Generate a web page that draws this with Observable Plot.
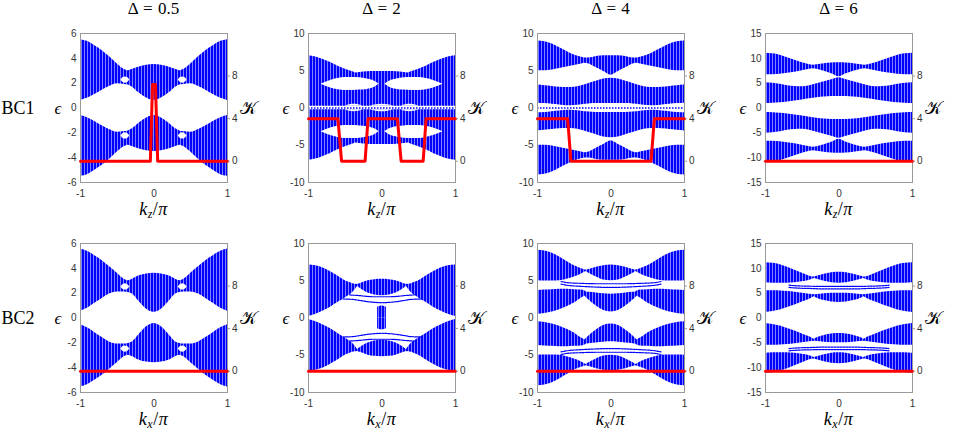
<!DOCTYPE html>
<html><head><meta charset="utf-8">
<script src="https://cdn.jsdelivr.net/npm/d3@7"></script>
<script src="https://cdn.jsdelivr.net/npm/@observablehq/plot@0.6"></script>
<style>
body{margin:0;background:#fff;}
#fig{position:relative;width:953px;height:442px;overflow:hidden;background:#fff;}
#fig svg{position:absolute;}
.lbl{position:absolute;font-family:"Liberation Serif","Times New Roman",serif;color:#000;white-space:nowrap;line-height:1;transform:translate(-50%,-50%);}
.lbl sub{font-size:12px;vertical-align:-3px;line-height:0;}
</style></head><body>
<svg width="0" height="0" style="position:absolute"><defs><pattern id="stripes" width="3" height="8" patternUnits="userSpaceOnUse"><rect x="0" y="0" width="2.5" height="8" fill="#0000ff"/></pattern></defs></svg>
<div id="fig"></div>
<script>
// ---------- labels & ticks ----------
const titles = ["Δ = 0.5", "Δ = 2", "Δ = 4", "Δ = 6"];
const rowLabels = ["BC1", "BC2"];
const xSub = ["z", "x"];
const kTicks = [-1, 0, 1];
const epsTicks = [[-6, -4, -2, 0, 2, 4, 6], [-10, -5, 0, 5, 10], [-10, -5, 0, 5, 10], [-15, -10, -5, 0, 5, 10, 15]];
const epsDomains = [[-6, 6], [-10, 10], [-10, 10], [-15, 15]];
const chernTicks = [0, 4, 8];
const chernDomain = [-2, 12];

// ---------- band data: [k, lower edge, upper edge] for k >= 0, eps > 0 half
// (the spectra are symmetric in k and in eps)
// BC1, Δ = 0.5
const p1Bands = [[[0,0.6,3.5],[0.1,0.8,3.45],[0.2,1.2,3.3],[0.3,1.7,3.1],[0.35,1.85,3.0],[0.4,1.9,3.1],[0.5,1.95,3.55],[0.6,1.75,4.1],[0.7,1.45,4.6],[0.8,1.1,5.0],[0.9,0.8,5.35],[1,0.6,5.5]]];
const p1Holes = [[[0.33,2.25,2.25],[0.36,2.05,2.45],[0.39,2.0,2.5],[0.42,2.05,2.45],[0.45,2.25,2.25]]];
// BC1, Δ = 2
const p2Bands = [[[0,0.25,4.9],[0.1,0.25,4.9],[0.2,0.25,4.85],[0.3,0.25,4.75],[0.35,0.25,4.7],[0.4,0.25,4.85],[0.5,0.25,5.2],[0.6,0.25,5.6],[0.7,0.25,6.1],[0.8,0.25,6.5],[0.9,0.25,6.85],[1,0.25,7.0]]];
const p2Holes = [
  [[0.04,3.2,3.2],[0.1,2.8,3.6],[0.2,2.5,3.9],[0.3,2.4,4.05],[0.4,2.35,4.1],[0.5,2.35,4.1],[0.6,2.45,3.95],[0.7,2.7,3.7],[0.83,3.2,3.2]],
  [[0.26,0.25,0.25],[0.32,0.25,0.45],[0.38,0.25,0.5],[0.44,0.25,0.45],[0.5,0.25,0.25]],
  [[0,0.25,0.5],[0.08,0.25,0.42],[0.16,0.25,0.25]]
];
// BC1, Δ = 4
const p3Bands = [
  [[0,4.4,7.0],[0.1,4.9,7.0],[0.2,5.4,6.9],[0.3,5.9,6.7],[0.35,6.0,6.7],[0.4,5.9,6.8],[0.5,5.7,7.1],[0.6,5.5,7.6],[0.7,5.3,8.1],[0.8,5.1,8.6],[0.9,5.0,8.9],[1,5.0,9.0]],
  [[0,0.6,4.0],[0.1,0.6,3.9],[0.2,0.6,3.6],[0.3,0.55,3.3],[0.4,0.45,3.0],[0.5,0.35,2.8],[0.6,0.3,2.75],[0.7,0.4,2.8],[0.8,0.5,2.9],[0.9,0.6,3.0],[1,0.65,3.1]]
];
// BC1, Δ = 6
const p4Bands = [
  [[0,6.3,9.1],[0.1,6.9,9.05],[0.2,7.4,8.9],[0.3,7.8,8.7],[0.35,7.9,8.6],[0.4,7.8,8.7],[0.5,7.5,9.1],[0.6,7.2,9.6],[0.7,7.0,10.1],[0.8,6.8,10.6],[0.9,6.7,10.9],[1,6.7,11.0]],
  [[0,2.3,6.1],[0.1,2.3,5.7],[0.2,2.2,5.3],[0.3,2.05,4.9],[0.4,1.85,4.5],[0.5,1.6,4.3],[0.6,1.4,4.35],[0.7,1.2,4.5],[0.8,1.05,4.8],[0.9,0.95,5.0],[1,0.9,5.1]]
];
// BC2, Δ = 0.5
const p5Bands = [[[0,0.45,3.6],[0.1,0.7,3.55],[0.2,1.3,3.4],[0.3,1.95,3.1],[0.35,2.05,3.0],[0.4,2.1,3.1],[0.5,2.1,3.6],[0.6,1.95,4.1],[0.7,1.6,4.6],[0.8,1.2,5.0],[0.9,0.8,5.35],[1,0.55,5.55]]];
const p5Holes = [[[0.33,2.5,2.5],[0.36,2.3,2.7],[0.39,2.25,2.75],[0.42,2.3,2.7],[0.45,2.5,2.5]]];
// BC2, Δ = 2
const p6Bands = [
  [[0,3.0,5.2],[0.1,3.1,5.15],[0.2,3.4,4.95],[0.3,4.0,4.6],[0.35,4.35,4.5]],
  [[0.33,4.3,4.5],[0.4,3.4,4.6],[0.44,3.1,4.75],[0.5,2.7,5.0],[0.58,2.2,5.5],[0.7,1.45,6.2],[0.8,0.95,6.7],[0.9,0.5,7.0],[1,0.2,7.1]],
  [[0,0,1.6],[0.03,0,1.55],[0.06,0,1.45]]
];
const p6Curves = [
  [[0,2.85],[0.1,2.85],[0.2,2.9],[0.3,3.0],[0.44,3.1]],
  [[0,2.05],[0.1,2.1],[0.2,2.2],[0.3,2.35],[0.4,2.5],[0.53,2.55]]
];
// BC2, Δ = 4
const p7Bands = [
  [[0,5.0,7.1],[0.1,5.1,7.0],[0.2,5.5,6.8],[0.3,6.0,6.5],[0.35,6.3,6.4]],
  [[0.34,6.25,6.4],[0.4,5.9,6.6],[0.5,5.5,7.0],[0.6,5.2,7.6],[0.7,5.0,8.2],[0.8,4.95,8.7],[0.9,4.95,9.0],[1,5.0,9.1]],
  [[0,0.8,3.2],[0.1,1.0,3.25],[0.2,1.6,3.35],[0.3,2.4,3.45],[0.35,2.9,3.5]],
  [[0.34,3.0,3.55],[0.4,2.7,3.75],[0.5,2.0,3.8],[0.6,1.5,3.85],[0.7,1.1,3.85],[0.8,0.8,3.8],[0.9,0.6,3.75],[1,0.5,3.7]]
];
const p7Curves = [
  [[0,4.6],[0.2,4.6],[0.4,4.65],[0.6,4.75],[0.68,4.9]],
  [[0,4.1],[0.2,4.15],[0.4,4.25],[0.6,4.4],[0.68,4.55]]
];
// BC2, Δ = 6
const p8Bands = [
  [[0,7.0,9.2],[0.1,7.1,9.1],[0.2,7.4,8.8],[0.3,7.8,8.4],[0.35,8.0,8.2]],
  [[0.34,7.95,8.2],[0.4,7.6,8.4],[0.5,7.3,9.0],[0.6,7.1,9.6],[0.7,7.0,10.2],[0.8,7.0,10.7],[0.9,7.0,11.0],[1,7.1,11.1]],
  [[0,3.1,5.0],[0.1,3.2,5.0],[0.2,3.5,4.9],[0.3,4.0,4.75],[0.35,4.4,4.7]],
  [[0.34,4.3,4.7],[0.4,3.8,4.8],[0.5,3.2,5.0],[0.6,2.6,5.2],[0.7,2.1,5.35],[0.8,1.6,5.45],[0.9,1.3,5.5],[1,1.1,5.5]]
];
const p8Curves = [
  [[0,6.35],[0.2,6.35],[0.4,6.4],[0.6,6.5],[0.68,6.6]],
  [[0,5.85],[0.2,5.85],[0.4,5.95],[0.6,6.05],[0.68,6.15]]
];

// ---------- red curves: [k, K] on the right axis ----------
const p1Chern = [[-1,0],[-0.05,0],[-0.02,7.2],[0.02,7.2],[0.05,0],[1,0]];
const p2Chern = [[-1,4],[-0.6,4],[-0.55,0],[-0.23,0],[-0.19,4],[0.21,4],[0.26,0],[0.56,0],[0.6,4],[1,4]];
const p3Chern = [[-1,4],[-0.59,4],[-0.545,0],[0.545,0],[0.59,4],[1,4]];
const p4Chern = [[-1,0],[1,0]];
const p5Chern = [[-1,0],[1,0]];
const p6Chern = [[-1,0],[1,0]];
const p7Chern = [[-1,0],[1,0]];
const p8Chern = [[-1,0],[1,0]];

// ---------- helpers (symmetry of the figure) ----------
function pieces(rows) {
  const pos = rows.map(([k, lo, hi]) => ({k, lo, hi}));
  const neg = rows.filter(r => r[0] !== 0).map(([k, lo, hi]) => ({k: -k, lo, hi})).reverse();
  return rows[0][0] === 0 ? [neg.concat(pos)] : [neg, pos];
}
function flipE(piece) { return piece.map(d => ({k: d.k, lo: -d.hi, hi: -d.lo})); }
function allPieces(list) {
  const out = [];
  for (const r of list) for (const p of pieces(r)) { out.push(p); out.push(flipE(p)); }
  return out;
}
function curvePieces(list) {
  const out = [];
  for (const c of list) {
    const pos = c.map(([k, e]) => ({k, e}));
    const neg = c.filter(r => r[0] !== 0).map(([k, e]) => ({k: -k, e})).reverse();
    const full = neg.concat(pos);
    out.push(full, full.map(d => ({k: d.k, e: -d.e})));
  }
  return out;
}

const panels = [
  {bands: p1Bands, holes: p1Holes, curves: [], chern: p1Chern, zero: false},
  {bands: p2Bands, holes: p2Holes, curves: [], chern: p2Chern, zero: true},
  {bands: p3Bands, holes: [], curves: [], chern: p3Chern, zero: true},
  {bands: p4Bands, holes: [], curves: [], chern: p4Chern, zero: false},
  {bands: p5Bands, holes: p5Holes, curves: [], chern: p5Chern, zero: false},
  {bands: p6Bands, holes: [], curves: p6Curves, chern: p6Chern, zero: false},
  {bands: p7Bands, holes: [], curves: p7Curves, chern: p7Chern, zero: false},
  {bands: p8Bands, holes: [], curves: p8Curves, chern: p8Chern, zero: false}
];
const zeroLevel = [0];

// ---------- layout ----------
const fig = document.getElementById("fig");
const colLeft = [80, 308, 537, 765];
const rowTop = [33, 243];
const fw = 147, fh = 149;
const mL = 34, mR = 34, mT = 6, mB = 24;
const W = fw + mL + mR, H = fh + mT + mB;
const axisStyle = {fontFamily: "Liberation Sans, Arial, sans-serif", fontSize: "10px", color: "#333", background: "transparent", overflow: "visible"};

function addLabel(html, x, y, size, extra) {
  const d = document.createElement("div");
  d.className = "lbl";
  d.innerHTML = html;
  d.style.left = x + "px";
  d.style.top = y + "px";
  d.style.fontSize = size + "px";
  if (extra) Object.assign(d.style, extra);
  fig.appendChild(d);
}

panels.forEach((p, i) => {
  const col = i % 4, row = Math.floor(i / 4);
  const left = colLeft[col] - mL, top = rowTop[row] - mT;
  const marks = [];
  for (const piece of allPieces(p.bands))
    marks.push(Plot.areaY(piece, {x: "k", y1: "lo", y2: "hi", fill: "url(#stripes)", curve: "monotone-x"}));
  for (const piece of allPieces(p.holes))
    marks.push(Plot.areaY(piece, {x: "k", y1: "lo", y2: "hi", fill: "white", curve: "monotone-x"}));
  for (const c of curvePieces(p.curves))
    marks.push(Plot.lineY(c, {x: "k", y: "e", stroke: "#0000ff", strokeWidth: 1.2, strokeDasharray: "2,1", curve: "monotone-x"}));
  if (p.zero) marks.push(Plot.ruleY(zeroLevel, {stroke: "#0000ff", strokeWidth: 1.3, strokeDasharray: "1.5,1.5"}));
  marks.push(Plot.frame({stroke: "#999", strokeWidth: 1}));
  marks.push(Plot.axisX({ticks: kTicks, tickSize: 0, tickPadding: 7, tickFormat: d => String(d), label: null}));
  marks.push(Plot.axisY({ticks: epsTicks[col], tickSize: 0, tickPadding: 4, tickFormat: d => String(d), label: null}));
  const a = Plot.plot({
    width: W, height: H, marginLeft: mL, marginRight: mR, marginTop: mT, marginBottom: mB,
    x: {domain: [-1, 1], axis: null}, y: {domain: epsDomains[col], axis: null}, style: axisStyle, marks
  });
  a.style.left = left + "px"; a.style.top = top + "px";
  fig.appendChild(a);

  const b = Plot.plot({
    width: W, height: H, marginLeft: mL, marginRight: mR, marginTop: mT, marginBottom: mB,
    x: {domain: [-1, 1], axis: null}, y: {domain: chernDomain, axis: null}, style: axisStyle,
    marks: [
      Plot.line(p.chern, {x: d => d[0], y: d => d[1], stroke: "#ff0000", strokeWidth: 3}),
      Plot.axisY({anchor: "right", ticks: chernTicks, tickSize: 2, tickPadding: 2.5, tickFormat: d => String(d), label: null, stroke: "#999"})
    ]
  });
  b.style.left = left + "px"; b.style.top = top + "px";
  fig.appendChild(b);

  const cx = colLeft[col] + fw / 2, cy = rowTop[row] + fh / 2;
  addLabel(`<i>k</i><sub><i>${xSub[row]}</i></sub>/<i>π</i>`, cx, rowTop[row] + fh + 27, 18, {letterSpacing: "0.5px"});
  addLabel(`<i>ϵ</i>`, colLeft[col] - 22, cy, 17);
  addLabel(`𝒦`, colLeft[col] + fw + 21, cy, 18);
  if (row === 0) addLabel(titles[col], cx, 8, 17, {wordSpacing: "1px"});
  if (col === 0) addLabel(rowLabels[row], 18, cy, 18);
});
</script>
</body></html>
